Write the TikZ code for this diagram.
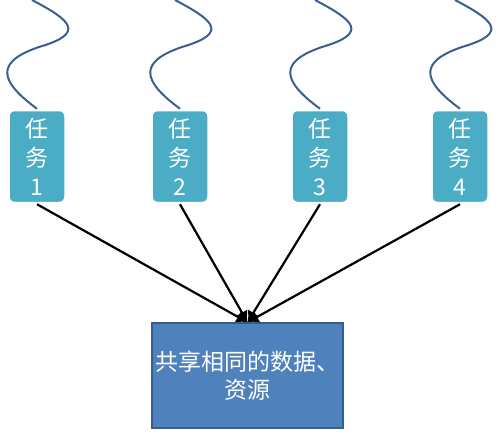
\documentclass[tikz,border=0pt]{standalone}
\usepackage{fontspec}
\newfontfamily\cjk{Noto Sans CJK SC}
\usetikzlibrary{arrows.meta}

\definecolor{taskfill}{RGB}{75,172,198}
\definecolor{sharedfill}{RGB}{79,129,189}
\definecolor{sharedline}{RGB}{56,93,138}
\definecolor{wavecol}{RGB}{58,94,146}

\tikzset{
    taskbox/.style={draw=white, line width=2.5pt, fill=taskfill, rounded corners=6pt,
        minimum width=57pt, minimum height=93pt, text=white, align=center,
        font=\cjk\fontsize{23}{29}\selectfont},
    sharedbox/.style={draw=sharedline, line width=1.5pt, fill=sharedfill,
        minimum width=191pt, minimum height=105pt, text=white, align=center,
        font=\cjk\fontsize{23}{28}\selectfont},
    wave/.style={wavecol, line width=2pt},
    link/.style={-{Latex[length=11pt,width=13pt]}, line width=2.2pt, black}
}

\begin{document}
\begin{tikzpicture}[x=1pt, y=-1pt]
    \useasboundingbox (0,0) rectangle (497,431);
    % 共享资源
    \node[sharedbox] (shared) at (247.5,375.5) {共享相同的数据、\\资源};
    % 任务
    \foreach \i/\x in {1/37,2/180,3/320,4/460} {
        \node[taskbox] (task\i) at (\x,156.5) {任\\务\\\i};
        \coordinate (top\i) at (\x-5,0);
        \coordinate (mid\i) at (\x+2,47);
        \draw[wave] (top\i) .. controls +(38,20) and +(48,-14) .. (mid\i)
            .. controls +(-44,15) and +(-38,-28) .. (task\i.north);
        \draw[link] (task\i.south) -- (shared.north);
    }
\end{tikzpicture}
\end{document}
